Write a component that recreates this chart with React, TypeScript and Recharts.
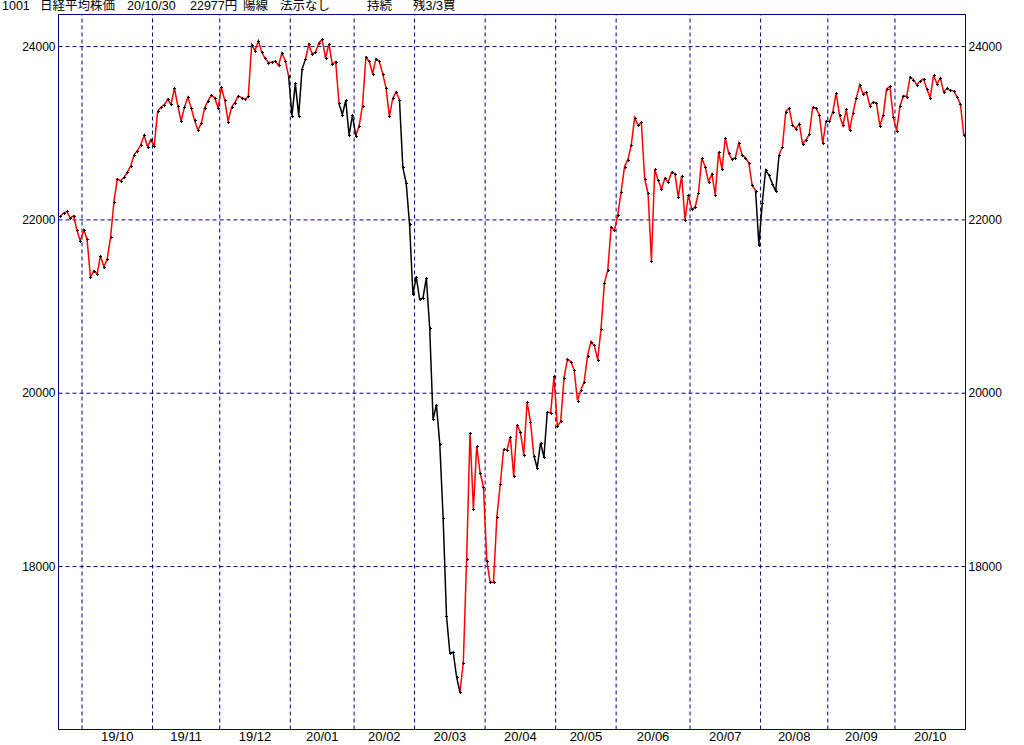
import React from "react";
import {
  LineChart,
  Line,
  XAxis,
  YAxis,
  CartesianGrid,
  ReferenceLine,
} from "recharts";

// trading days per month (Nikkei 225 daily close)
const months = [
  "19/09", "19/10", "19/11", "19/12", "20/01", "20/02", "20/03",
  "20/04", "20/05", "20/06", "20/07", "20/08", "20/09", "20/10",
];

const tradingDays = [
  [19, 20, 24, 25, 26, 27, 30],
  [1, 2, 3, 4, 7, 8, 9, 10, 11, 15, 16, 17, 18, 21, 23, 24, 25, 28, 29, 30, 31],
  [1, 5, 6, 7, 8, 11, 12, 13, 14, 15, 18, 19, 20, 21, 22, 25, 26, 27, 28, 29],
  [2, 3, 4, 5, 6, 9, 10, 11, 12, 13, 16, 17, 18, 19, 20, 23, 24, 25, 26, 27, 30],
  [6, 7, 8, 9, 10, 14, 15, 16, 17, 20, 21, 22, 23, 24, 27, 28, 29, 30, 31],
  [3, 4, 5, 6, 7, 10, 12, 13, 14, 17, 18, 19, 20, 21, 25, 26, 27, 28],
  [2, 3, 4, 5, 6, 9, 10, 11, 12, 13, 16, 17, 18, 19, 23, 24, 25, 26, 27, 30, 31],
  [1, 2, 3, 6, 7, 8, 9, 10, 13, 14, 15, 16, 17, 20, 21, 22, 23, 24, 27, 28, 30],
  [1, 7, 8, 11, 12, 13, 14, 15, 18, 19, 20, 21, 22, 25, 26, 27, 28, 29],
  [1, 2, 3, 4, 5, 8, 9, 10, 11, 12, 15, 16, 17, 18, 19, 22, 23, 24, 25, 26, 29, 30],
  [1, 2, 3, 6, 7, 8, 9, 10, 13, 14, 15, 16, 17, 20, 21, 22, 27, 28, 29, 30, 31],
  [3, 4, 5, 6, 7, 11, 12, 13, 14, 17, 18, 19, 20, 21, 24, 25, 26, 27, 28, 31],
  [1, 2, 3, 4, 7, 8, 9, 10, 11, 14, 15, 16, 17, 18, 23, 24, 25, 28, 29, 30],
  [2, 5, 6, 7, 8, 9, 12, 13, 14, 15, 16, 19, 20, 21, 22, 23, 26, 27, 28, 29, 30],
];

const closesByMonth = [
  [22044, 22079, 22098, 22020, 22048, 21878, 21756],
  [21885, 21778, 21341, 21410, 21375, 21587, 21456, 21551, 21798, 22207, 22472, 22451, 22492, 22548, 22625, 22750, 22800, 22867, 22974, 22843, 22927],
  [22851, 23251, 23303, 23330, 23392, 23332, 23520, 23320, 23141, 23303, 23417, 23293, 23148, 23038, 23113, 23293, 23373, 23438, 23410, 23294],
  [23529, 23380, 23135, 23300, 23354, 23430, 23410, 23391, 23424, 24023, 23952, 24066, 23934, 23864, 23816, 23821, 23830, 23782, 23925, 23837, 23657],
  [23204, 23575, 23204, 23740, 23851, 24025, 23917, 23933, 24041, 24083, 23865, 24031, 23795, 23827, 23344, 23216, 23379, 22977, 23205],
  [22972, 23085, 23320, 23874, 23828, 23686, 23861, 23828, 23688, 23523, 23194, 23401, 23479, 23387, 22606, 22426, 21948, 21143],
  [21344, 21083, 21100, 21330, 20750, 19699, 19867, 19416, 18560, 17431, 17002, 17012, 16727, 16553, 16888, 18092, 19546, 18665, 19390, 19085, 18917],
  [18065, 17819, 17820, 18576, 18950, 19353, 19346, 19499, 19044, 19639, 19551, 19290, 19898, 19670, 19281, 19138, 19430, 19262, 19784, 19772, 20194],
  [19619, 19675, 20179, 20390, 20366, 20267, 19915, 20037, 20134, 20433, 20595, 20552, 20388, 20742, 21271, 21419, 21916, 21878],
  [22062, 22325, 22614, 22696, 22864, 23178, 23092, 23125, 22473, 22305, 21531, 22583, 22456, 22355, 22479, 22438, 22549, 22535, 22260, 22512, 21996, 22288],
  [22122, 22146, 22307, 22715, 22615, 22439, 22530, 22291, 22785, 22588, 22946, 22770, 22697, 22718, 22885, 22752, 22716, 22658, 22397, 22339, 21710],
  [22196, 22574, 22515, 22419, 22330, 22751, 22844, 23250, 23290, 23097, 23051, 23111, 22881, 22921, 22986, 23297, 23291, 23209, 22883, 23140],
  [23139, 23248, 23466, 23206, 23090, 23274, 23033, 23236, 23407, 23560, 23455, 23476, 23320, 23360, 23347, 23088, 23205, 23512, 23540, 23185],
  [23030, 23312, 23434, 23423, 23647, 23620, 23559, 23602, 23627, 23508, 23411, 23672, 23568, 23640, 23475, 23517, 23495, 23486, 23419, 23332, 22977],
];

// periods drawn in black (sell state), from date to date
const sellRanges = [
  ["19/12/30", "20/01/10"],
  ["20/01/27", "20/02/03"],
  ["20/02/21", "20/03/19"],
  ["20/04/21", "20/04/27"],
  ["20/07/30", "20/08/11"],
];

const yTicks = [18000, 20000, 22000, 24000];
const yDomain = [16120, 24370];

const NAVY = "#000080";

// build rows
const pad = (d: number) => (d < 10 ? "0" + d : "" + d);
const dates: string[] = [];
const closes: number[] = [];
months.forEach((m, mi) => {
  tradingDays[mi].forEach((d, di) => {
    dates.push(`${m}/${pad(d)}`);
    closes.push(closesByMonth[mi][di]);
  });
});
const N = dates.length;

const ranges = sellRanges.map(([a, b]) => [dates.indexOf(a), dates.indexOf(b)]);
const inBlack = (i: number) => ranges.some(([a, b]) => i >= a && i <= b);
const insideBlack = (i: number) => ranges.some(([a, b]) => i > a && i < b);

const data = dates.map((d, i) => ({
  i,
  date: d,
  close: closes[i],
  red: insideBlack(i) ? null : closes[i],
  black: inBlack(i) ? closes[i] : null,
}));

// month boundaries and label positions
const monthStarts: number[] = [];
dates.forEach((d, i) => {
  if (i > 0 && d.slice(0, 5) !== dates[i - 1].slice(0, 5)) monthStarts.push(i);
});
const boundaries = monthStarts.map((s) => s - 0.5);
const monthTicks: number[] = [];
const tickLabels = new Map<number, string>();
monthStarts.forEach((s, k) => {
  const end = k + 1 < monthStarts.length ? monthStarts[k + 1] : N;
  const c = (s + end - 1) / 2;
  monthTicks.push(c);
  tickLabels.set(c, dates[s].slice(0, 5));
});

const PlusDot = (props: any) => {
  const { cx, cy, index } = props;
  if (cx == null || cy == null) return <g key={index} />;
  const x = Math.round(cx);
  const y = Math.round(cy);
  return (
    <path
      key={index}
      d={`M${x - 1},${y + 0.5}h3M${x + 0.5},${y - 1}v3`}
      stroke="#000"
      strokeWidth={1}
      fill="none"
      shapeRendering="crispEdges"
    />
  );
};

const font = "'Liberation Sans', 'Noto Sans CJK JP', sans-serif";

const titleParts: [number, string][] = [
  [2, "1001"],
  [40, "日経平均株価"],
  [127, "20/10/30"],
  [190, "22977円"],
  [243, "陽線"],
  [280, "法示なし"],
  [367, "持続"],
  [413, "残3/3買"],
];

export default function App() {
  return (
    <div
      style={{
        position: "absolute",
        left: 0,
        top: 0,
        width: 1024,
        height: 745,
        background: "#fff",
        fontFamily: font,
      }}
    >
      {titleParts.map(([x, t]) => (
        <span
          key={x}
          style={{
            position: "absolute",
            left: x,
            top: -1,
            fontSize: 12.5,
            lineHeight: "14px",
            color: "#000",
            whiteSpace: "nowrap",
          }}
        >
          {t}
        </span>
      ))}
      <LineChart
        width={1024}
        height={745}
        data={data}
        margin={{ top: 14.5, right: 0.5, left: 0.5, bottom: 0 }}
      >
        <CartesianGrid
          vertical={false}
          stroke={NAVY}
          strokeDasharray="4 3"
        />
        <XAxis
          dataKey="i"
          type="number"
          domain={[-0.5, N - 0.5]}
          ticks={monthTicks}
          interval={0}
          tickFormatter={(v: number) => tickLabels.get(v) ?? ""}
          height={15.5}
          tickLine={false}
          tickSize={0}
          tickMargin={2}
          axisLine={{ stroke: NAVY }}
          tick={{ fill: "#000", fontSize: 13, fontFamily: font }}
        />
        <YAxis
          domain={yDomain}
          ticks={yTicks}
          width={58}
          tickLine={false}
          tickSize={0}
          tickMargin={3}
          axisLine={{ stroke: NAVY }}
          allowDataOverflow
          tick={{ fill: "#000", fontSize: 12, fontFamily: font }}
        />
        <YAxis
          yAxisId="r"
          orientation="right"
          domain={yDomain}
          ticks={yTicks}
          width={58}
          tickLine={false}
          tickSize={0}
          tickMargin={3}
          axisLine={{ stroke: NAVY }}
          allowDataOverflow
          tick={{ fill: "#000", fontSize: 12, fontFamily: font, textAnchor: "start" }}
        />
        <ReferenceLine y={yDomain[1]} stroke={NAVY} />
        {boundaries.map((b) => (
          <ReferenceLine key={b} x={b} stroke={NAVY} strokeDasharray="4 3" />
        ))}
        <Line
          dataKey="red"
          type="linear"
          stroke="#ff0000"
          strokeWidth={1.5}
          dot={false}
          activeDot={false}
          connectNulls={false}
          isAnimationActive={false}
        />
        <Line
          dataKey="black"
          type="linear"
          stroke="#000000"
          strokeWidth={1.5}
          dot={false}
          activeDot={false}
          connectNulls={false}
          isAnimationActive={false}
        />
        <Line
          dataKey="close"
          type="linear"
          stroke="none"
          dot={(p: any) => <PlusDot {...p} />}
          activeDot={false}
          isAnimationActive={false}
        />
      </LineChart>
    </div>
  );
}
